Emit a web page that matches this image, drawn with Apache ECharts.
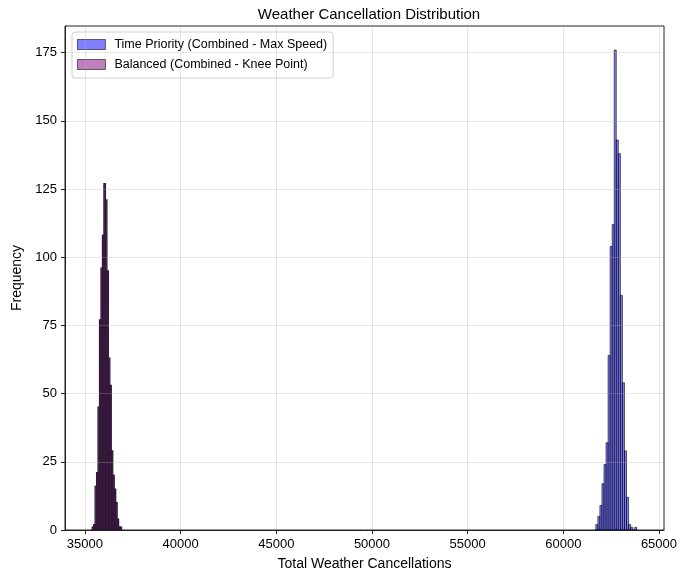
<!DOCTYPE html>
<html>
<head>
<meta charset="utf-8">
<script src="https://cdn.jsdelivr.net/npm/echarts@6/dist/echarts.min.js"></script>
<style>
html, body { margin: 0; padding: 0; background: #fff; }
#root { width: 693px; height: 577px; }
</style>
</head>
<body>
<div id="root"></div>
<script>
// histogram bins
const seriesNames = ['Time Priority (Combined - Max Speed)', 'Balanced (Combined - Knee Point)'];
const timeStart = 61698;
const timeBinWidth = 107.1;
const timeCounts = [2, 5, 9, 17, 24, 32, 64, 104, 112, 176, 143, 138, 86, 54, 29, 12, 2, 1, 0, 1];
const balancedStart = 35381;
const balancedBinWidth = 76.55;
const balancedCounts = [1, 2, 16, 21, 45, 77, 96, 108, 127, 121, 95, 63, 53, 29, 20, 15, 10, 4, 1, 1];
const xTicks = [35000, 40000, 45000, 50000, 55000, 60000, 65000];
const yTicks = [0, 25, 50, 75, 100, 125, 150, 175];

const font = 'Liberation Sans, Arial, sans-serif';
const timeFill = 'rgba(0,0,255,0.5)';
const balancedFill = 'rgba(128,0,128,0.5)';
// bar edges per series (narrow purple bins look almost solid dark in the original)
const edges = [
    { color: '#000', width: 0.6 },
    { color: 'rgb(48,22,54)', width: 1.3 }
];

function toBins(start, width, counts) {
    return counts.map((c, i) => [start + i * width, start + (i + 1) * width, c]);
}

// matplotlib style 5% margins
const lo = balancedStart;
const hi = timeStart + timeCounts.length * timeBinWidth;
const pad = (hi - lo) * 0.05;
const yMax = Math.max(...timeCounts, ...balancedCounts) * 1.05;

function renderBar(params, api) {
    const p0 = api.coord([api.value(0), api.value(2)]);
    const p1 = api.coord([api.value(1), 0]);
    const e = edges[params.seriesIndex];
    return {
        type: 'rect',
        shape: { x: p0[0], y: p0[1], width: p1[0] - p0[0], height: p1[1] - p0[1] },
        style: { fill: api.visual('color'), stroke: e.color, lineWidth: e.width }
    };
}

let chart = echarts.init(document.getElementById('root'));

let option = {
    animation: false,
    textStyle: { fontFamily: font },
    title: {
        text: 'Weather Cancellation Distribution',
        left: 364,
        textAlign: 'center',
        top: 2,
        textStyle: { fontFamily: font, fontSize: 15, fontWeight: 'normal', color: '#000' }
    },
    legend: {
        orient: 'vertical',
        left: 72,
        top: 32,
        padding: [6, 6, 7, 5],
        itemGap: 7,
        itemWidth: 28,
        itemHeight: 10,
        backgroundColor: '#fff',
        borderColor: '#d0d0d0',
        borderWidth: 1,
        borderRadius: 3,
        textStyle: { fontFamily: font, fontSize: 12.5, color: '#000', padding: [0, 0, 0, 4] },
        data: [
            { name: seriesNames[0], icon: 'rect', itemStyle: { color: timeFill, borderColor: 'rgba(0,0,0,0.7)', borderWidth: 0.8 } },
            { name: seriesNames[1], icon: 'rect', itemStyle: { color: balancedFill, borderColor: 'rgba(0,0,0,0.7)', borderWidth: 0.8 } }
        ]
    },
    grid: {
        left: 65, right: 29, top: 26, bottom: 47,
        show: true, borderColor: '#222', borderWidth: 1
    },
    xAxis: {
        type: 'value',
        min: lo - pad,
        max: hi + pad,
        splitNumber: 6,
        z: 5,
        name: 'Total Weather Cancellations',
        nameLocation: 'middle',
        nameGap: 27,
        nameTextStyle: { fontFamily: font, fontSize: 14, color: '#000' },
        axisLine: { show: true, lineStyle: { color: '#222', width: 1 } },
        axisTick: { show: true, customValues: xTicks, length: 4, lineStyle: { color: '#222' } },
        axisLabel: {
            customValues: xTicks, fontFamily: font, fontSize: 13, color: '#000', margin: 8,
            formatter: v => String(Math.round(v))
        },
        splitLine: { show: true, lineStyle: { color: 'rgba(176,176,176,0.3)', width: 1 } }
    },
    yAxis: {
        type: 'value',
        min: 0,
        max: yMax,
        interval: 25,
        z: 5,
        name: 'Frequency',
        nameLocation: 'middle',
        nameGap: 32,
        nameTextStyle: { fontFamily: font, fontSize: 14, color: '#000' },
        axisLine: { show: true, lineStyle: { color: '#222', width: 1 } },
        axisTick: { show: true, customValues: yTicks, length: 4, lineStyle: { color: '#222' } },
        axisLabel: { customValues: yTicks, fontFamily: font, fontSize: 13, color: '#000', margin: 8 },
        splitLine: { show: true, lineStyle: { color: 'rgba(176,176,176,0.3)', width: 1 } }
    },
    series: [
        {
            name: seriesNames[0],
            type: 'custom',
            z: 1,
            itemStyle: { color: timeFill },
            renderItem: renderBar,
            encode: { x: [0, 1], y: 2 },
            data: toBins(timeStart, timeBinWidth, timeCounts)
        },
        {
            name: seriesNames[1],
            type: 'custom',
            z: 1,
            itemStyle: { color: balancedFill },
            renderItem: renderBar,
            encode: { x: [0, 1], y: 2 },
            data: toBins(balancedStart, balancedBinWidth, balancedCounts)
        }
    ]
};
chart.setOption(option);
</script>
</body>
</html>
